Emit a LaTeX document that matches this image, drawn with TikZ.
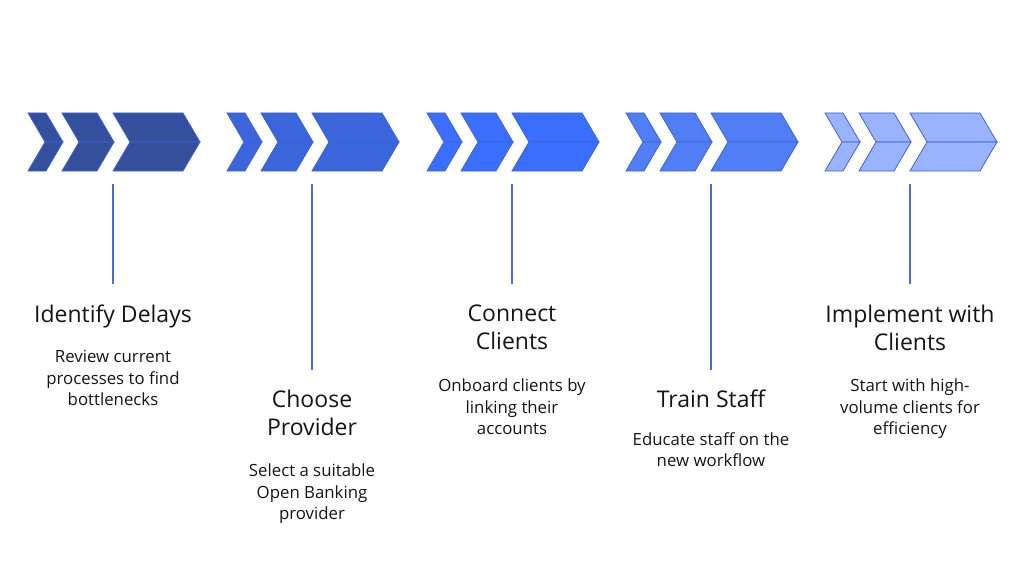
\documentclass[tikz,border=0pt]{standalone}
\usepackage{fontspec}
\setmainfont{Open Sans}
\definecolor{c1}{HTML}{344F9B}
\definecolor{c2}{HTML}{3A65DB}
\definecolor{c3}{HTML}{3A6EFF}
\definecolor{c4}{HTML}{4F7EF7}
\definecolor{c5}{HTML}{99B3FE}
\definecolor{edge}{HTML}{3F63D4}
\definecolor{stem}{HTML}{4A6CD6}
\definecolor{ink}{HTML}{151515}
\tikzset{
  chevpart/.style={draw=edge, line width=0.8pt, line join=miter},
  stemline/.style={draw=stem, line width=1.2pt},
  ttl/.style={anchor=north, inner sep=0pt, align=center, text=ink, font=\fontsize{23}{28}\selectfont},
  bdy/.style={anchor=north, inner sep=0pt, align=center, text=ink, font=\fontsize{16.8}{21.5}\selectfont},
}
\begin{document}
\begin{tikzpicture}[x=1pt,y=-1pt]
\useasboundingbox (0,0) rectangle (1024,583);
\fill[white] (0,0) rectangle (1024,583);
\foreach \s/\c in {28/c1,227/c2,427/c3,626/c4,825/c5}{
  \foreach \l/\r in {0/18,34/69,85/155}{
    \draw[chevpart, fill=\c] ({\s+\l},113) -- ({\s+\r},113) -- ({\s+\r+17},142) -- ({\s+\l+17},142) -- cycle;
    \draw[chevpart, fill=\c] ({\s+\l+17},142) -- ({\s+\r+17},142) -- ({\s+\r},171) -- ({\s+\l},171) -- cycle;
  }
}
% titles and descriptions
\node[ttl] (t1) at (113,305) {Identify Delays};
\node[bdy] (b1) at (113,350) {Review current\\processes to find\\bottlenecks};
\node[ttl] (t2) at (312,390) {Choose\\Provider};
\node[bdy] (b2) at (312,464) {Select a suitable\\Open Banking\\provider};
\node[ttl] (t3) at (512,305) {Connect\\Clients};
\node[bdy] (b3) at (512,379) {Onboard clients by\\linking their\\accounts};
\node[ttl] (t4) at (711,390) {Train Staff};
\node[bdy] (b4) at (711,432) {Educate staff on the\\new workflow};
\node[ttl] (t5) at (910,305) {Implement with\\Clients};
\node[bdy] (b5) at (910,379) {Start with high-\\volume clients for\\efficiency};
% stems
\coordinate (s1a) at (113,184); \coordinate (s1b) at (113,284);
\coordinate (s2a) at (312,184); \coordinate (s2b) at (312,370);
\coordinate (s3a) at (512,184); \coordinate (s3b) at (512,284);
\coordinate (s4a) at (711,184); \coordinate (s4b) at (711,370);
\coordinate (s5a) at (910,184); \coordinate (s5b) at (910,284);
\foreach \i in {1,...,5}{\draw[stemline] (s\i a) -- (s\i b);}
\end{tikzpicture}
\end{document}
